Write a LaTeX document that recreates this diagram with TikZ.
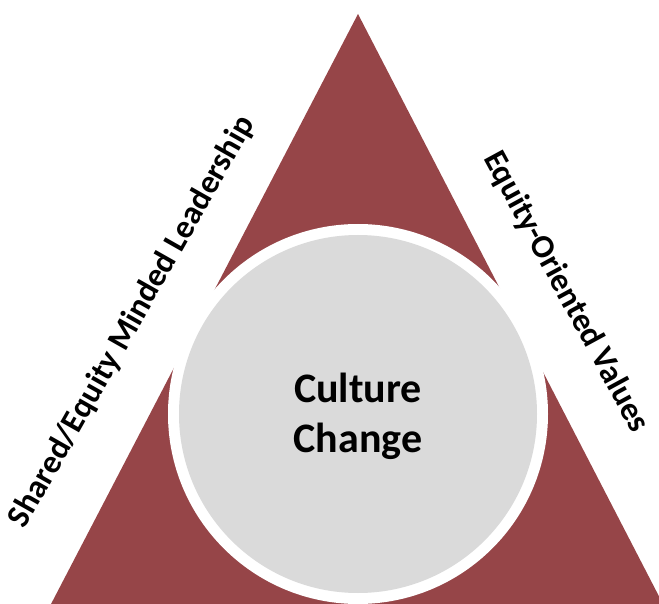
\documentclass[tikz,border=0pt]{standalone}
\usepackage{fontspec}
\setmainfont{Carlito}
\definecolor{tri}{RGB}{150,69,72}
\definecolor{disc}{RGB}{218,218,218}
\tikzset{
  sidelabel/.style={font=\fontsize{33}{40}\selectfont\bfseries, inner sep=0pt, text=black},
  centerlabel/.style={font=\fontsize{42}{50}\selectfont\bfseries, align=center, inner sep=0pt, text=black}
}
\begin{document}
\begin{tikzpicture}[x=1pt,y=-1pt]
\useasboundingbox (0,0) rectangle (659,604);
\begin{scope}
\clip (0,0) rectangle (659,604);
\fill[tri] (358,14) -- (50,606) -- (664,606) -- cycle;
\fill[white] (358,414) circle[radius=190];
\fill[disc] (358,414) circle[radius=179];
\end{scope}
\node[centerlabel] (cc) at (358,416) {Culture\\Change};
\node[sidelabel, rotate=60.5] (left) at (132,322) {Shared/Equity Minded Leadership};
\node[sidelabel, rotate=-61.5] (right) at (566,292) {Equity-Oriented Values};
\end{tikzpicture}
\end{document}
